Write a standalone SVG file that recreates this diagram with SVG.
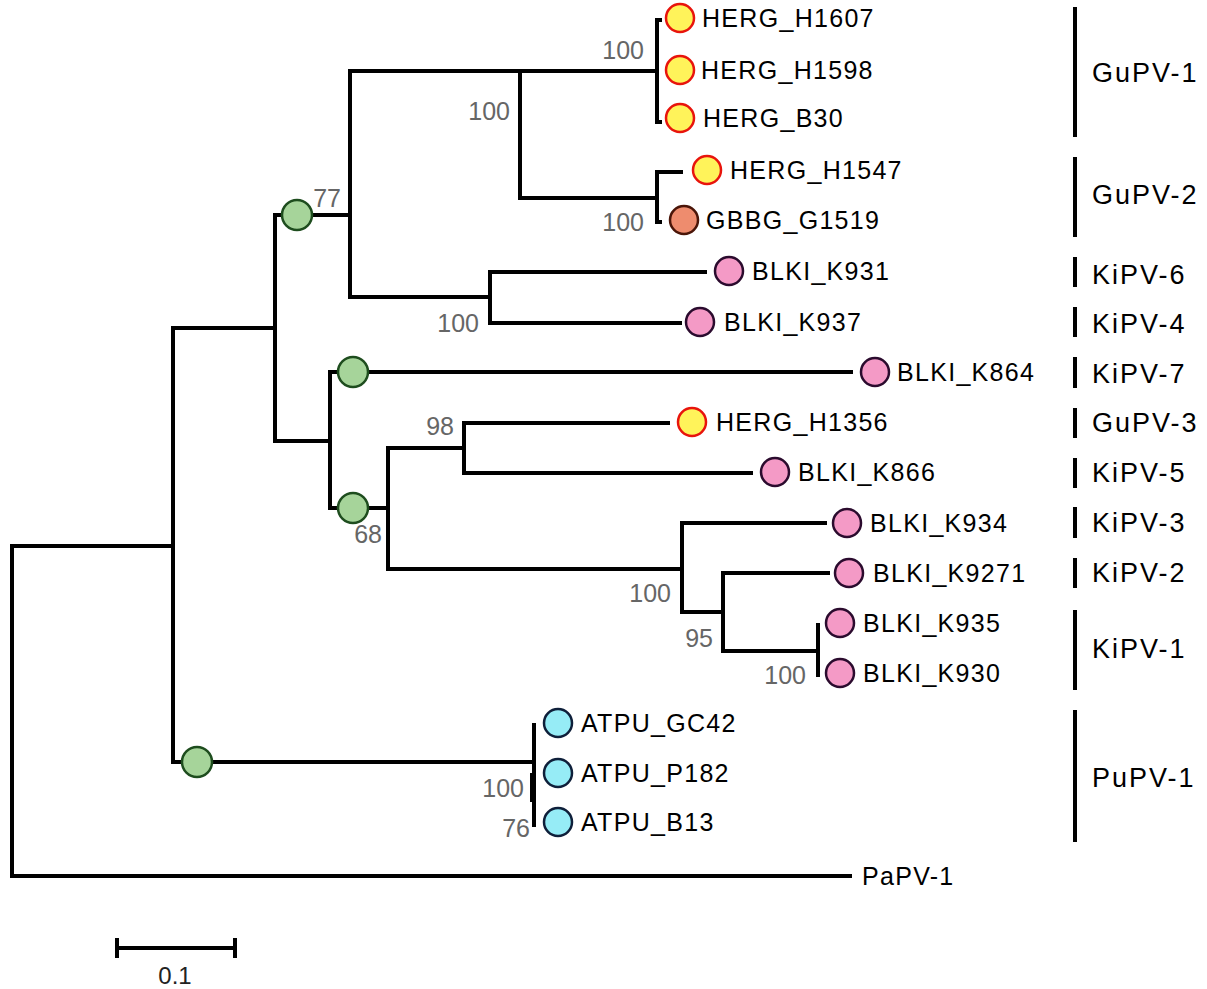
<svg xmlns="http://www.w3.org/2000/svg" width="1207" height="989" viewBox="0 0 1207 989">
<style>
.br{fill:none;stroke:#000;stroke-width:4;stroke-linecap:butt;stroke-linejoin:miter}
.tip{font-family:"Liberation Sans",Arial,sans-serif;font-size:25px;letter-spacing:1.3px;fill:#000}
.clade{font-family:"Liberation Sans",Arial,sans-serif;font-size:27px;letter-spacing:2px;fill:#000}
.sup{font-family:"Liberation Sans",Arial,sans-serif;font-size:25px;fill:#666;text-anchor:end}
.bar{stroke:#000;stroke-width:4}
.y{fill:#FFF35A;stroke:#E8140C;stroke-width:2.5}
.o{fill:#EE8C6E;stroke:#4A1508;stroke-width:2.5}
.p{fill:#F49AC6;stroke:#2B0B2E;stroke-width:2.5}
.c{fill:#96ECF6;stroke:#0E1F3A;stroke-width:2.5}
.g{fill:#A6D49A;stroke:#1E4D1E;stroke-width:2.5}
</style>
<rect width="1207" height="989" fill="#fff"/>
<g id="connectors">
<path class="br" d="M852 876H12V546H173"/>
<path class="br" d="M275 328H173V762H534"/>
<path class="br" d="M350 215H275V441H330"/>
<path class="br" d="M520 71H350V297H490"/>
<path class="br" d="M657 71H520V198H657"/>
<path class="br" d="M662 20H657V122H662"/>
<path class="br" d="M683 172H657V222H662"/>
<path class="br" d="M707 272H490V323H682"/>
<path class="br" d="M853 372H330V508H388"/>
<path class="br" d="M464 448H388V569H682"/>
<path class="br" d="M670 423H464V473H753"/>
<path class="br" d="M827 523H682V612H723"/>
<path class="br" d="M830 573H723V651H818"/>
<path class="br" d="M818 623V677"/>
<path class="br" d="M534 723V827"/>
<path class="br" d="M533 773V802" style="stroke-width:6"/>
</g>
<g id="internal-nodes">
<g id="n77"><circle class="g" cx="297" cy="215" r="15"/><text class="sup" x="341" y="207">77</text></g>
<g id="nKiPV7"><circle class="g" cx="353" cy="372" r="15"/></g>
<g id="n68"><circle class="g" cx="353" cy="508" r="15"/><text class="sup" x="382" y="543">68</text></g>
<g id="nPuPV"><circle class="g" cx="197" cy="762" r="15"/></g>
<g id="s1"><text class="sup" x="644" y="59">100</text></g>
<g id="s2"><text class="sup" x="510" y="120">100</text></g>
<g id="s3"><text class="sup" x="644" y="231">100</text></g>
<g id="s4"><text class="sup" x="479" y="332">100</text></g>
<g id="s5"><text class="sup" x="454" y="435">98</text></g>
<g id="s6"><text class="sup" x="671" y="602">100</text></g>
<g id="s7"><text class="sup" x="713" y="647">95</text></g>
<g id="s8"><text class="sup" x="806" y="684">100</text></g>
<g id="s9"><text class="sup" x="524" y="797">100</text></g>
<g id="s10"><text class="sup" x="530" y="837">76</text></g>
</g>
<g id="tips">
<g id="HERG_H1607"><circle class="y" cx="680" cy="18" r="14"/><text class="tip" x="702" y="27">HERG_H1607</text></g>
<g id="HERG_H1598"><circle class="y" cx="680" cy="70" r="14"/><text class="tip" x="701" y="79">HERG_H1598</text></g>
<g id="HERG_B30"><circle class="y" cx="680" cy="118" r="14"/><text class="tip" x="703" y="127">HERG_B30</text></g>
<g id="HERG_H1547"><circle class="y" cx="707" cy="170" r="14"/><text class="tip" x="730" y="179">HERG_H1547</text></g>
<g id="GBBG_G1519"><circle class="o" cx="684" cy="220" r="14"/><text class="tip" x="706" y="229">GBBG_G1519</text></g>
<g id="BLKI_K931"><circle class="p" cx="729" cy="271" r="14"/><text class="tip" x="752" y="280">BLKI_K931</text></g>
<g id="BLKI_K937"><circle class="p" cx="700" cy="322" r="14"/><text class="tip" x="724" y="331">BLKI_K937</text></g>
<g id="BLKI_K864"><circle class="p" cx="875" cy="372" r="14"/><text class="tip" x="897" y="381">BLKI_K864</text></g>
<g id="HERG_H1356"><circle class="y" cx="692" cy="422" r="14"/><text class="tip" x="716" y="431">HERG_H1356</text></g>
<g id="BLKI_K866"><circle class="p" cx="775" cy="472" r="14"/><text class="tip" x="798" y="481">BLKI_K866</text></g>
<g id="BLKI_K934"><circle class="p" cx="847" cy="523" r="14"/><text class="tip" x="870" y="532">BLKI_K934</text></g>
<g id="BLKI_K9271"><circle class="p" cx="849" cy="573" r="14"/><text class="tip" x="873" y="582">BLKI_K9271</text></g>
<g id="BLKI_K935"><circle class="p" cx="840" cy="623" r="14"/><text class="tip" x="863" y="632">BLKI_K935</text></g>
<g id="BLKI_K930"><circle class="p" cx="840" cy="673" r="14"/><text class="tip" x="863" y="682">BLKI_K930</text></g>
<g id="ATPU_GC42"><circle class="c" cx="558" cy="723" r="14"/><text class="tip" x="581" y="732">ATPU_GC42</text></g>
<g id="ATPU_P182"><circle class="c" cx="558" cy="773" r="14"/><text class="tip" x="581" y="782">ATPU_P182</text></g>
<g id="ATPU_B13"><circle class="c" cx="558" cy="822" r="14"/><text class="tip" x="581" y="831">ATPU_B13</text></g>
<g id="PaPV-1"><text class="tip" x="862" y="885">PaPV-1</text></g>
</g>
<g id="clades">
<g id="c-GuPV-1"><line class="bar" x1="1075" y1="7" x2="1075" y2="137"/><text class="clade" x="1092" y="82">GuPV-1</text></g>
<g id="c-GuPV-2"><line class="bar" x1="1075" y1="157" x2="1075" y2="237"/><text class="clade" x="1092" y="204">GuPV-2</text></g>
<g id="c-KiPV-6"><line class="bar" x1="1075" y1="257" x2="1075" y2="287"/><text class="clade" x="1092" y="284">KiPV-6</text></g>
<g id="c-KiPV-4"><line class="bar" x1="1075" y1="307" x2="1075" y2="337"/><text class="clade" x="1092" y="333">KiPV-4</text></g>
<g id="c-KiPV-7"><line class="bar" x1="1075" y1="357" x2="1075" y2="388"/><text class="clade" x="1092" y="383">KiPV-7</text></g>
<g id="c-GuPV-3"><line class="bar" x1="1075" y1="408" x2="1075" y2="438"/><text class="clade" x="1092" y="432">GuPV-3</text></g>
<g id="c-KiPV-5"><line class="bar" x1="1075" y1="458" x2="1075" y2="488"/><text class="clade" x="1092" y="482">KiPV-5</text></g>
<g id="c-KiPV-3"><line class="bar" x1="1075" y1="507" x2="1075" y2="538"/><text class="clade" x="1092" y="532">KiPV-3</text></g>
<g id="c-KiPV-2"><line class="bar" x1="1075" y1="558" x2="1075" y2="588"/><text class="clade" x="1092" y="582">KiPV-2</text></g>
<g id="c-KiPV-1"><line class="bar" x1="1075" y1="610" x2="1075" y2="690"/><text class="clade" x="1092" y="658">KiPV-1</text></g>
<g id="c-PuPV-1"><line class="bar" x1="1075" y1="710" x2="1075" y2="842"/><text class="clade" x="1092" y="787">PuPV-1</text></g>
</g>
<g id="scale">
<path class="br" d="M117 948H235M117 938V958M235 938V958"/>
<text x="175" y="984" text-anchor="middle" style="font-family:'Liberation Sans',Arial,sans-serif;font-size:24px;fill:#222">0.1</text>
</g>
</svg>
